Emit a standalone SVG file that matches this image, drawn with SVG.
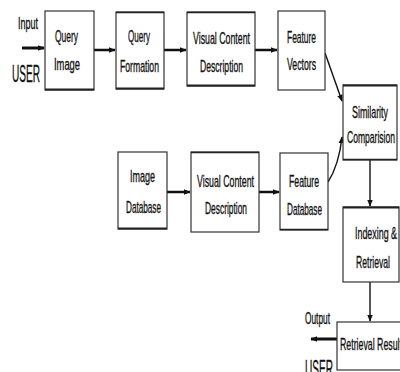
<svg xmlns="http://www.w3.org/2000/svg" width="400" height="372" viewBox="0 0 400 372">
<defs>
<marker id="ah" viewBox="0 0 10 10" refX="9" refY="5" markerWidth="7" markerHeight="7" markerUnits="userSpaceOnUse" orient="auto">
<path d="M0,1 L10,5 L0,9 z" fill="#111"/>
</marker>
<marker id="ahs" viewBox="0 0 10 10" refX="9" refY="5" markerWidth="7" markerHeight="7" markerUnits="userSpaceOnUse" orient="auto">
<path d="M0,1 L10,5 L0,9 z" fill="#111"/>
</marker>
</defs>
<style>
.box{fill:#fff;stroke:#333;stroke-width:1.2}
.sh{stroke:#222;stroke-width:2.2;fill:none}
text{font-family:"Liberation Sans Narrow","Liberation Sans",Arial,sans-serif;font-size:17px;fill:#111;stroke:#111;stroke-width:0.35;text-anchor:start}
.c{stroke:#111;fill:none}
</style>
<rect width="400" height="372" fill="#fff"/>
<g id="connectors">
<line class="c" x1="22" y1="48" x2="44" y2="48" stroke-width="3" marker-end="url(#ah)"/>
<line class="c" x1="94" y1="50" x2="115" y2="50" stroke-width="2.5" marker-end="url(#ah)"/>
<line class="c" x1="164" y1="50" x2="186" y2="50" stroke-width="2.5" marker-end="url(#ah)"/>
<line class="c" x1="255" y1="50" x2="277" y2="50" stroke-width="2.5" marker-end="url(#ah)"/>
<line class="c" x1="325" y1="53" x2="342" y2="101" stroke-width="1.4" marker-end="url(#ahs)"/>
<line class="c" x1="167" y1="192" x2="190" y2="192" stroke-width="2.5" marker-end="url(#ah)"/>
<line class="c" x1="259" y1="192" x2="279" y2="192" stroke-width="2.5" marker-end="url(#ah)"/>
<path class="c" d="M328,182 Q339,165 342,137" stroke-width="1.4" marker-end="url(#ahs)"/>
<line class="c" x1="370" y1="160" x2="370" y2="206" stroke-width="1.4" marker-end="url(#ahs)"/>
<line class="c" x1="370" y1="282" x2="370" y2="321" stroke-width="1.4" marker-end="url(#ahs)"/>
<line class="c" x1="337" y1="339" x2="311" y2="339" stroke-width="3" marker-end="url(#ah)"/>
</g>
<g id="input-label">
<text x="18" y="29" textLength="20" lengthAdjust="spacingAndGlyphs">Input</text>
<text x="12" y="82" style="font-size:23px" textLength="28" lengthAdjust="spacingAndGlyphs">USER</text>
</g>
<g id="query-image">
<rect class="box" x="45" y="11" width="49" height="79"/>
<line class="sh" x1="45" y1="89.5" x2="94" y2="89.5"/>
<text x="55" y="42" textLength="23" lengthAdjust="spacingAndGlyphs">Query</text>
<text x="54" y="70" textLength="26" lengthAdjust="spacingAndGlyphs">Image</text>
</g>
<g id="query-formation">
<rect class="box" x="116" y="12" width="48" height="77"/>
<line class="sh" x1="116" y1="88.5" x2="164" y2="88.5"/>
<line class="sh" x1="116" y1="12.5" x2="164" y2="12.5" style="stroke-width:1.5"/>
<text x="128" y="42" textLength="22" lengthAdjust="spacingAndGlyphs">Query</text>
<text x="120" y="72" textLength="39" lengthAdjust="spacingAndGlyphs">Formation</text>
</g>
<g id="visual-content-1">
<rect class="box" x="187" y="12" width="68" height="74"/>
<line class="sh" x1="187" y1="85.5" x2="255" y2="85.5"/>
<line class="sh" x1="187" y1="12.5" x2="255" y2="12.5" style="stroke-width:1.5"/>
<text x="193" y="44" textLength="57" lengthAdjust="spacingAndGlyphs">Visual Content</text>
<text x="200" y="72" textLength="43" lengthAdjust="spacingAndGlyphs">Description</text>
</g>
<g id="feature-vectors">
<rect class="box" x="278" y="11" width="47" height="79"/>
<text x="287" y="43" textLength="29" lengthAdjust="spacingAndGlyphs">Feature</text>
<text x="287" y="70" textLength="29" lengthAdjust="spacingAndGlyphs">Vectors</text>
</g>
<g id="similarity">
<rect class="box" x="343" y="85" width="54" height="75"/>
<line class="sh" x1="343" y1="85.5" x2="397" y2="85.5"/>
<line class="sh" x1="343" y1="159.5" x2="397" y2="159.5" style="stroke-width:1.5"/>
<text x="352" y="118" textLength="36" lengthAdjust="spacingAndGlyphs">Similarity</text>
<text x="347" y="143" textLength="48" lengthAdjust="spacingAndGlyphs">Comparision</text>
</g>
<g id="image-database">
<rect class="box" x="118" y="152" width="49" height="77"/>
<line class="sh" x1="118" y1="228.5" x2="167" y2="228.5"/>
<text x="130" y="182" textLength="25" lengthAdjust="spacingAndGlyphs">Image</text>
<text x="126" y="213" textLength="35" lengthAdjust="spacingAndGlyphs">Database</text>
</g>
<g id="visual-content-2">
<rect class="box" x="191" y="152" width="68" height="80"/>
<line class="sh" x1="191" y1="152.5" x2="259" y2="152.5" style="stroke-width:1.5"/>
<text x="197" y="187" textLength="57" lengthAdjust="spacingAndGlyphs">Visual Content</text>
<text x="205" y="214" textLength="42" lengthAdjust="spacingAndGlyphs">Description</text>
</g>
<g id="feature-database">
<rect class="box" x="280" y="153" width="48" height="77"/>
<line class="sh" x1="280" y1="229.5" x2="328" y2="229.5" style="stroke-width:1.5"/>
<text x="289" y="187" textLength="30" lengthAdjust="spacingAndGlyphs">Feature</text>
<text x="287" y="215" textLength="35" lengthAdjust="spacingAndGlyphs">Database</text>
</g>
<g id="indexing-retrieval">
<rect class="box" x="343" y="207" width="56" height="75"/>
<line class="sh" x1="343" y1="207.5" x2="399" y2="207.5"/>
<text x="355" y="239" textLength="42" lengthAdjust="spacingAndGlyphs">Indexing &amp;</text>
<text x="356" y="268" textLength="34" lengthAdjust="spacingAndGlyphs">Retrieval</text>
</g>
<g id="retrieval-result">
<rect class="box" x="337" y="322" width="70" height="48"/>
<text x="340" y="350" textLength="62" lengthAdjust="spacingAndGlyphs">Retrieval Result</text>
</g>
<g id="output-label">
<text x="305" y="324" textLength="25" lengthAdjust="spacingAndGlyphs">Output</text>
<text x="305" y="377" style="font-size:23px" textLength="28" lengthAdjust="spacingAndGlyphs">USER</text>
</g>
</svg>
